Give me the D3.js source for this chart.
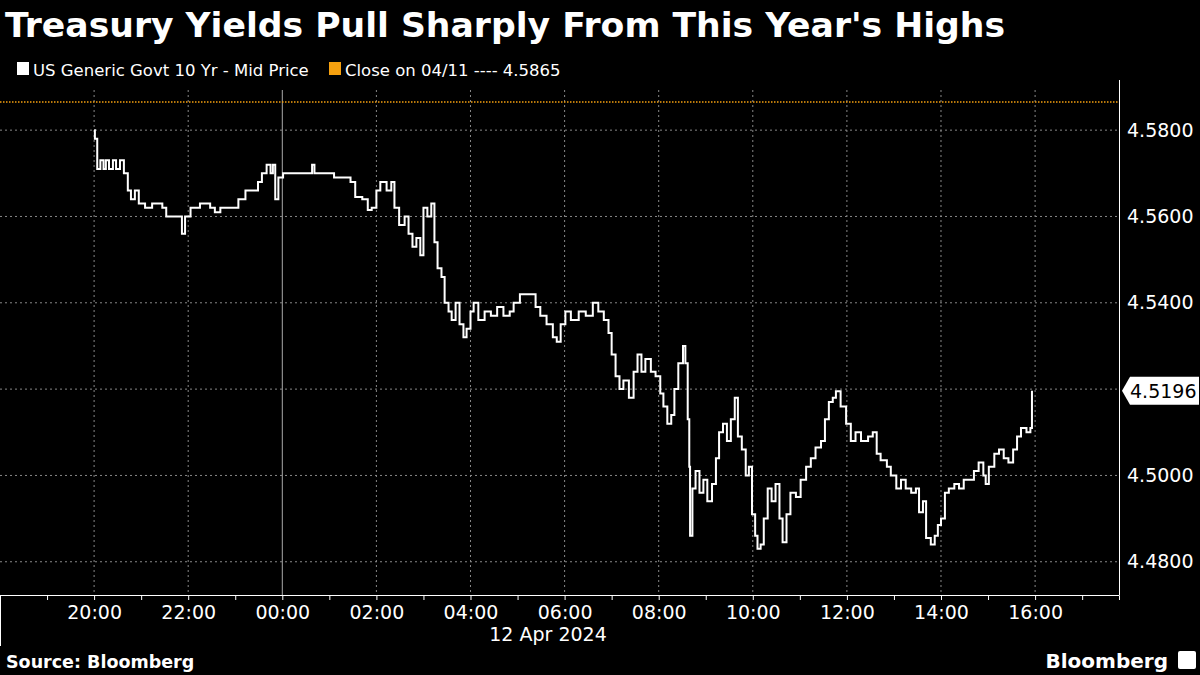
<!DOCTYPE html>
<html>
<head>
<meta charset="utf-8">
<script src="https://cdn.jsdelivr.net/npm/d3@7"></script>
<style>
  body { margin: 0; background: #000; }
  svg { display: block; font-family: "DejaVu Sans", sans-serif; }
</style>
</head>
<body>
<div id="chart"></div>
<script>
// minutes after 20:00 on 04/11, and the 10Y mid yield
const minutes = [0,1,4,8,12,15,19,24,28,33,38,43,47,52,57,65,74,82,87,92,105,112,116,123,135,148,154,161,176,184,193,202,209,214,220,225,228,231,235,241,263,278,281,301,306,327,333,342,349,354,360,365,373,379,383,389,396,401,406,411,416,420,425,430,434,438,443,447,452,456,461,466,471,475,480,484,490,498,506,514,522,530,535,543,557,563,569,577,585,590,595,601,608,618,627,636,643,650,656,660,665,670,675,682,688,693,698,703,710,716,722,726,731,736,740,745,751,754,757,759,760,763,767,772,777,782,788,793,797,802,807,812,817,821,826,831,835,839,843,846,850,854,859,864,869,874,878,883,888,895,901,908,914,920,927,932,937,942,946,952,959,965,971,978,987,993,998,1003,1011,1016,1023,1029,1035,1042,1048,1052,1057,1061,1067,1072,1076,1080,1085,1090,1097,1103,1109,1116,1122,1128,1134,1137,1141,1148,1154,1160,1166,1172,1177,1182,1189,1194,1196];
const yields = [4.580,4.578,4.571,4.573,4.571,4.573,4.571,4.573,4.571,4.573,4.570,4.566,4.564,4.566,4.563,4.562,4.563,4.563,4.562,4.560,4.560,4.556,4.560,4.562,4.563,4.562,4.561,4.562,4.562,4.564,4.566,4.566,4.568,4.570,4.572,4.570,4.572,4.564,4.569,4.570,4.570,4.572,4.570,4.570,4.569,4.568,4.5645,4.564,4.5615,4.562,4.566,4.568,4.566,4.568,4.562,4.558,4.560,4.556,4.553,4.555,4.551,4.562,4.560,4.563,4.554,4.548,4.546,4.540,4.538,4.536,4.540,4.535,4.532,4.534,4.538,4.540,4.536,4.538,4.537,4.539,4.537,4.538,4.540,4.542,4.542,4.539,4.537,4.535,4.532,4.531,4.535,4.538,4.536,4.538,4.537,4.540,4.538,4.536,4.533,4.528,4.523,4.520,4.522,4.518,4.524,4.528,4.524,4.527,4.524,4.523,4.519,4.516,4.512,4.514,4.520,4.526,4.530,4.526,4.513,4.502,4.486,4.497,4.501,4.496,4.499,4.494,4.498,4.504,4.510,4.512,4.508,4.513,4.518,4.509,4.506,4.500,4.502,4.491,4.486,4.483,4.484,4.490,4.497,4.494,4.498,4.490,4.4845,4.491,4.496,4.495,4.499,4.502,4.504,4.5065,4.508,4.513,4.517,4.518,4.5195,4.516,4.512,4.508,4.510,4.508,4.509,4.510,4.505,4.5035,4.502,4.500,4.497,4.499,4.497,4.496,4.497,4.4915,4.494,4.4855,4.484,4.486,4.4885,4.490,4.496,4.497,4.498,4.497,4.499,4.499,4.501,4.503,4.500,4.498,4.502,4.505,4.506,4.504,4.503,4.506,4.509,4.511,4.510,4.511,4.5196];
const yTicks = [4.48, 4.50, 4.52, 4.54, 4.56, 4.58];
const prevClose = 4.5865;
const lastValue = 4.5196;

const W = 1200, H = 675;
const plot = { left: 0, right: 1119, top: 90, bottom: 595 };
const start = new Date(2024, 3, 11, 20, 0);
const data = minutes.map((m, i) => ({ date: d3.timeMinute.offset(start, m), value: yields[i] }));

const svg = d3.select("#chart").append("svg").attr("width", W).attr("height", H);

const x = d3.scaleTime()
  .domain([d3.timeMinute.offset(start, -120), d3.timeMinute.offset(start, 1307)])
  .range([plot.left, plot.right]);
const y = d3.scaleLinear().domain([4.4723, 4.5893]).range([plot.bottom, plot.top]);

// title + legend
svg.append("text").attr("x", 5).attr("y", 37).attr("fill", "#fff")
  .attr("font-size", 33).attr("font-weight", "bold")
  .attr("textLength", 1000).attr("lengthAdjust", "spacingAndGlyphs")
  .text("Treasury Yields Pull Sharply From This Year's Highs");
svg.append("rect").attr("x", 17).attr("y", 62).attr("width", 12).attr("height", 13).attr("fill", "#fff");
svg.append("text").attr("x", 33).attr("y", 76).attr("fill", "#fff").attr("font-size", 16.5)
  .text("US Generic Govt 10 Yr - Mid Price");
svg.append("rect").attr("x", 329).attr("y", 62).attr("width", 12).attr("height", 13).attr("fill", "#f5a00f");
svg.append("text").attr("x", 345).attr("y", 76).attr("fill", "#fff").attr("font-size", 16.5)
  .text("Close on 04/11 ---- 4.5865");

// grid
const hourTicks = d3.timeHour.every(2).range(start, d3.timeMinute.offset(start, 1201));
svg.append("g").selectAll("line").data(hourTicks).join("line")
  .attr("x1", d => x(d)).attr("x2", d => x(d)).attr("y1", plot.top).attr("y2", plot.bottom)
  .attr("stroke", d => d.getHours() === 0 ? "#aaa" : "#888")
  .attr("stroke-width", 1)
  .attr("stroke-dasharray", d => d.getHours() === 0 ? null : "2,3");
svg.append("g").selectAll("line").data(yTicks).join("line")
  .attr("x1", plot.left).attr("x2", plot.right).attr("y1", d => y(d)).attr("y2", d => y(d))
  .attr("stroke", "#888").attr("stroke-dasharray", "2,3");

// previous close
svg.append("line").attr("x1", plot.left).attr("x2", plot.right)
  .attr("y1", y(prevClose)).attr("y2", y(prevClose))
  .attr("stroke", "#f5a00f").attr("stroke-width", 1.5).attr("stroke-dasharray", "1.5,1.5");

// axes
const xAxis = svg.append("g").attr("transform", `translate(0,${plot.bottom})`)
  .call(d3.axisBottom(x).ticks(d3.timeHour.every(1)).tickSize(5)
    .tickFormat(d => d.getHours() % 2 === 0 && d >= start ? d3.timeFormat("%H:%M")(d) : ""));
xAxis.select(".domain").attr("stroke", "#fff");
xAxis.selectAll(".tick line").attr("stroke", "#fff");
xAxis.selectAll("text").attr("fill", "#fff").attr("font-size", 19)
  .attr("font-family", "DejaVu Sans").attr("y", 8).attr("dy", "0.85em");
svg.append("line").attr("x1", 0.5).attr("x2", 0.5).attr("y1", plot.bottom).attr("y2", 646).attr("stroke", "#fff");
svg.append("text").attr("x", 548).attr("y", 641).attr("text-anchor", "middle")
  .attr("fill", "#fff").attr("font-size", 19).text("12 Apr 2024");

const yAxis = svg.append("g").attr("transform", `translate(${plot.right},0)`)
  .call(d3.axisRight(y).tickValues(yTicks).tickSize(0).tickPadding(8)
    .tickFormat(d => d === 4.52 ? "" : d3.format(".4f")(d)));
yAxis.select(".domain").attr("stroke", "#fff").attr("d", `M0.5,${plot.top - 10}V${plot.bottom}`);
yAxis.selectAll("text").attr("fill", "#fff").attr("font-size", 19).attr("font-family", "DejaVu Sans");

// last value tag
const ly = y(lastValue);
svg.append("path")
  .attr("d", `M${plot.right + 3},${ly} L${plot.right + 11},${ly - 14} H1199 V${ly + 14} H${plot.right + 11} Z`)
  .attr("fill", "#fff");
svg.append("text").attr("x", 1130).attr("y", ly + 7).attr("fill", "#000").attr("font-size", 19)
  .text(d3.format(".4f")(lastValue));

// series
svg.append("path").datum(data)
  .attr("fill", "none").attr("stroke", "#fff").attr("stroke-width", 2)
  .attr("d", d3.line().curve(d3.curveStepAfter).x(d => x(d.date)).y(d => y(d.value)));

// footer
svg.append("text").attr("x", 6).attr("y", 668).attr("fill", "#fff").attr("font-size", 17.5)
  .attr("font-weight", "bold").text("Source: Bloomberg");
svg.append("text").attr("x", 1168).attr("y", 668).attr("text-anchor", "end").attr("fill", "#fff")
  .attr("font-size", 20).attr("font-weight", "bold").text("Bloomberg");
svg.append("rect").attr("x", 1178).attr("y", 651).attr("width", 18).attr("height", 18).attr("rx", 2).attr("fill", "#fff");
</script>
</body>
</html>
